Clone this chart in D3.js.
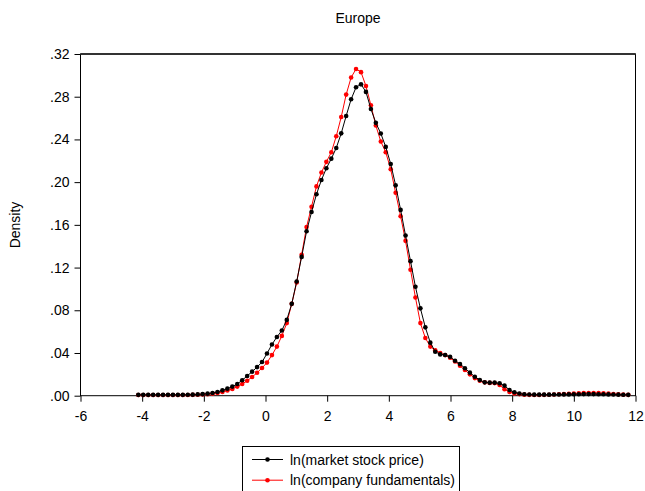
<!DOCTYPE html>
<html>
<head>
<meta charset="utf-8">
<script src="https://cdn.jsdelivr.net/npm/d3@7"></script>
<style>
  html, body { margin: 0; padding: 0; background: #fff; }
  svg { display: block; }
  text { font-family: "Liberation Sans", Arial, sans-serif; fill: #000; }
</style>
</head>
<body>
<svg id="chart" width="645" height="491"></svg>
<script>
const title = "Europe";
const yLabel = "Density";
const xTicks = [-6, -4, -2, 0, 2, 4, 6, 8, 10, 12];
const yTicks = [0, 0.04, 0.08, 0.12, 0.16, 0.20, 0.24, 0.28, 0.32];
const seriesNames = ["ln(market stock price)", "ln(company fundamentals)"];
const seriesColors = ["#000000", "#ff0000"];

const xGrid = [
  -4.125, -3.965, -3.804, -3.644, -3.483, -3.323, -3.162, -3.002, -2.841, -2.681,
  -2.520, -2.360, -2.199, -2.039, -1.878, -1.718, -1.557, -1.397, -1.236, -1.076,
  -0.915, -0.755, -0.594, -0.434, -0.273, -0.113, 0.048, 0.209, 0.369, 0.530,
  0.690, 0.851, 1.011, 1.172, 1.332, 1.493, 1.653, 1.814, 1.974, 2.135,
  2.295, 2.456, 2.616, 2.777, 2.937, 3.098, 3.258, 3.419, 3.579, 3.740,
  3.900, 4.061, 4.221, 4.382, 4.542, 4.703, 4.863, 5.024, 5.184, 5.345,
  5.505, 5.666, 5.826, 5.987, 6.147, 6.308, 6.468, 6.629, 6.789, 6.950,
  7.110, 7.271, 7.431, 7.592, 7.752, 7.913, 8.073, 8.234, 8.394, 8.555,
  8.715, 8.876, 9.036, 9.197, 9.357, 9.518, 9.678, 9.839, 9.999, 10.160,
  10.320, 10.481, 10.641, 10.802, 10.962, 11.123, 11.283, 11.444, 11.604, 11.765
];

const marketDensity = [
  0.0008, 0.0008, 0.0008, 0.0008, 0.0008, 0.0008, 0.0008, 0.0008, 0.0008, 0.0008,
  0.0009, 0.0010, 0.0012, 0.0015, 0.0019, 0.0025, 0.0035, 0.0050, 0.0066, 0.0085,
  0.0110, 0.0145, 0.0185, 0.0225, 0.0268, 0.0315, 0.0395, 0.0480, 0.0550, 0.0610,
  0.0710, 0.0860, 0.1070, 0.1300, 0.1540, 0.1720, 0.1886, 0.2020, 0.2130, 0.2220,
  0.2320, 0.2457, 0.2620, 0.2776, 0.2888, 0.2916, 0.2845, 0.2685, 0.2555, 0.2455,
  0.2330, 0.2170, 0.1970, 0.1740, 0.1500, 0.1260, 0.1020, 0.0818, 0.0640, 0.0497,
  0.0412, 0.0387, 0.0381, 0.0365, 0.0328, 0.0297, 0.0257, 0.0216, 0.0178, 0.0147,
  0.0125, 0.0122, 0.0122, 0.0116, 0.0094, 0.0053, 0.0032, 0.0020, 0.0013, 0.0011,
  0.0010, 0.0010, 0.0010, 0.0010, 0.0011, 0.0011, 0.0012, 0.0012, 0.0013, 0.0014,
  0.0015, 0.0015, 0.0015, 0.0014, 0.0013, 0.0012, 0.0011, 0.0010, 0.0009, 0.0008
];

const fundamentalsDensity = [
  0.0006, 0.0006, 0.0006, 0.0006, 0.0006, 0.0006, 0.0006, 0.0006, 0.0006, 0.0006,
  0.0007, 0.0008, 0.0009, 0.0011, 0.0014, 0.0018, 0.0025, 0.0035, 0.0048, 0.0063,
  0.0085, 0.0110, 0.0140, 0.0175, 0.0215, 0.0260, 0.0310, 0.0380, 0.0460, 0.0560,
  0.0680, 0.0860, 0.1060, 0.1320, 0.1580, 0.1770, 0.1960, 0.2090, 0.2190, 0.2280,
  0.2430, 0.2610, 0.2820, 0.2980, 0.3060, 0.3030, 0.2900, 0.2720, 0.2530, 0.2380,
  0.2280, 0.2120, 0.1900, 0.1680, 0.1450, 0.1180, 0.0920, 0.0680, 0.0540, 0.0460,
  0.0425, 0.0400, 0.0380, 0.0355, 0.0320, 0.0280, 0.0240, 0.0200, 0.0165, 0.0140,
  0.0125, 0.0120, 0.0118, 0.0100, 0.0060, 0.0035, 0.0020, 0.0015, 0.0010, 0.0008,
  0.0007, 0.0007, 0.0008, 0.0009, 0.0011, 0.0013, 0.0015, 0.0018, 0.0020, 0.0022,
  0.0024, 0.0025, 0.0025, 0.0024, 0.0022, 0.0019, 0.0016, 0.0013, 0.0010, 0.0008
];

const svg = d3.select("#chart");
const W = 645, H = 491;
const plot = { left: 80.5, right: 635.5, top: 54, bottom: 395.7 };

svg.append("rect").attr("width", W).attr("height", H).attr("fill", "#fff");

const x = d3.scaleLinear().domain([-6, 12]).range([plot.left, plot.right]);
const y = d3.scaleLinear().domain([0, 0.32]).range([plot.bottom, plot.top]);

const fmtY = v => d3.format(".2f")(v).replace(/^0\./, ".");
const fmtX = v => String(v);

// axes
const yAxis = d3.axisLeft(y).tickValues(yTicks).tickSize(6).tickPadding(5).tickFormat(fmtY);
const gy = svg.append("g").attr("transform", `translate(${plot.left},0)`).call(yAxis);
const xAxis = d3.axisBottom(x).tickValues(xTicks).tickSize(6).tickPadding(9).tickFormat(fmtX);
const gx = svg.append("g").attr("transform", `translate(0,${plot.bottom})`).call(xAxis);
[gx, gy].forEach(g => {
  g.select(".domain").remove();
  g.selectAll("text").attr("font-size", 14).attr("font-family", "'Liberation Sans', Arial, sans-serif").attr("fill", "#000");
  g.selectAll("line").attr("stroke", "#000");
});

// frame
svg.append("rect")
  .attr("x", plot.left).attr("y", plot.top)
  .attr("width", plot.right - plot.left).attr("height", plot.bottom - plot.top)
  .attr("fill", "none").attr("stroke", "#000").attr("stroke-width", 1);
svg.append("line")
  .attr("x1", plot.left).attr("x2", plot.right).attr("y1", plot.top).attr("y2", plot.top)
  .attr("stroke", "#333").attr("stroke-width", 2);

// series
const series = [
  { name: seriesNames[0], color: seriesColors[0], values: marketDensity },
  { name: seriesNames[1], color: seriesColors[1], values: fundamentalsDensity }
];
const line = d3.line().x(d => x(d[0])).y(d => y(d[1]));
const drawOrder = [series[1], series[0]];
drawOrder.forEach(s => {
  const pts = xGrid.map((xv, i) => [xv, s.values[i]]);
  svg.append("path").datum(pts).attr("d", line)
    .attr("fill", "none").attr("stroke", s.color).attr("stroke-width", 1);
  svg.append("g").selectAll("circle").data(pts).join("circle")
    .attr("cx", d => x(d[0])).attr("cy", d => y(d[1])).attr("r", 2.3)
    .attr("fill", s.color);
});

// title
svg.append("text").attr("x", 358).attr("y", 23).attr("text-anchor", "middle")
  .attr("font-size", 14).text(title);

// y label
svg.append("text").attr("transform", "translate(20,225) rotate(-90)")
  .attr("text-anchor", "middle").attr("font-size", 14).text(yLabel);

// legend
const lg = svg.append("g");
lg.append("rect").attr("x", 242.5).attr("y", 446.5).attr("width", 217).attr("height", 50)
  .attr("fill", "#fff").attr("stroke", "#000").attr("stroke-width", 1);
series.forEach((s, i) => {
  const ly = 459.5 + i * 20.7;
  lg.append("line").attr("x1", 252).attr("x2", 283).attr("y1", ly).attr("y2", ly)
    .attr("stroke", s.color).attr("stroke-width", 1);
  lg.append("circle").attr("cx", 267.5).attr("cy", ly).attr("r", 2.3).attr("fill", s.color);
  lg.append("text").attr("x", 290).attr("y", ly + 5).attr("font-size", 14).text(s.name);
});
</script>
</body>
</html>
